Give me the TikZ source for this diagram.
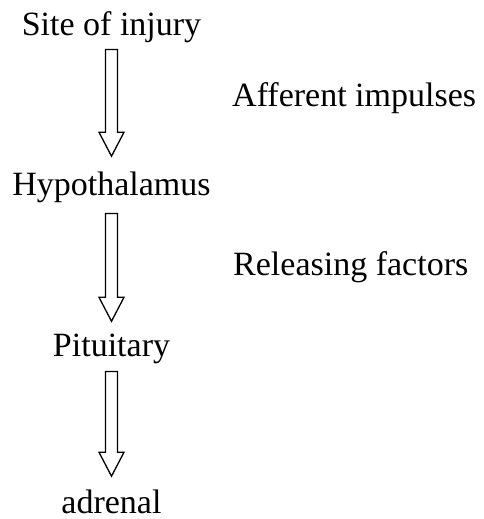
\documentclass[tikz,border=0pt]{standalone}
\usepackage{fontspec}
\setmainfont{Liberation Serif}
\usepackage{tikz}
\usetikzlibrary{calc}

\begin{document}
\begin{tikzpicture}[
    x=1pt, y=-1pt,
    % 1. ESTILO DE TEXTO: etapas centradas sobre su línea base
    etapa/.style={font=\fontsize{34}{40}\selectfont, inner sep=0pt, anchor=base},
    % 2. NOTAS A LA DERECHA (alineadas a la izquierda)
    nota/.style={etapa, anchor=base west},
    % 3. FLECHA HUECA DE BLOQUE (vertical, de nodo a nodo)
    bloque/.style={
        draw=black, line width=1.3pt, line join=miter,
        to path={let \p1=(\tikztostart), \p2=(\tikztotarget) in
            (\x1-6pt,\y1) -- (\x1-6pt,\y2+24pt) -- (\x1-12.5pt,\y2+24pt) -- (\x1,\y2)
            -- (\x1+12.5pt,\y2+24pt) -- (\x1+6pt,\y2+24pt) -- (\x1+6pt,\y1) -- cycle}
    }
]
    \useasboundingbox (0,0) rectangle (484,519);

    % --- COLUMNA CENTRAL: Etapas ---
    \node[etapa] (sitio)      at (111.5, 36)  {Site of injury};
    \node[etapa] (hipotalamo) at (111.5, 195) {Hypothalamus};
    \node[etapa] (hipofisis)  at (111.5, 356) {Pituitary};
    \node[etapa] (adrenal)    at (111.5, 513) {adrenal};

    % --- COLUMNA DERECHA: Señales ---
    \node[nota] (aferentes) at (232, 106) {Afferent impulses};
    \node[nota] (factores)  at (233, 275) {Releasing factors};

    % --- FLECHAS ---
    \draw[bloque] ([yshift=-6pt]sitio.south) to ([yshift=15pt]hipotalamo.north);
    \draw[bloque] ([yshift=-11pt]hipotalamo.south) to ([yshift=12pt]hipofisis.north);
    \draw[bloque] ([yshift=-8pt]hipofisis.south) to ([yshift=13pt]adrenal.north);

\end{tikzpicture}
\end{document}
